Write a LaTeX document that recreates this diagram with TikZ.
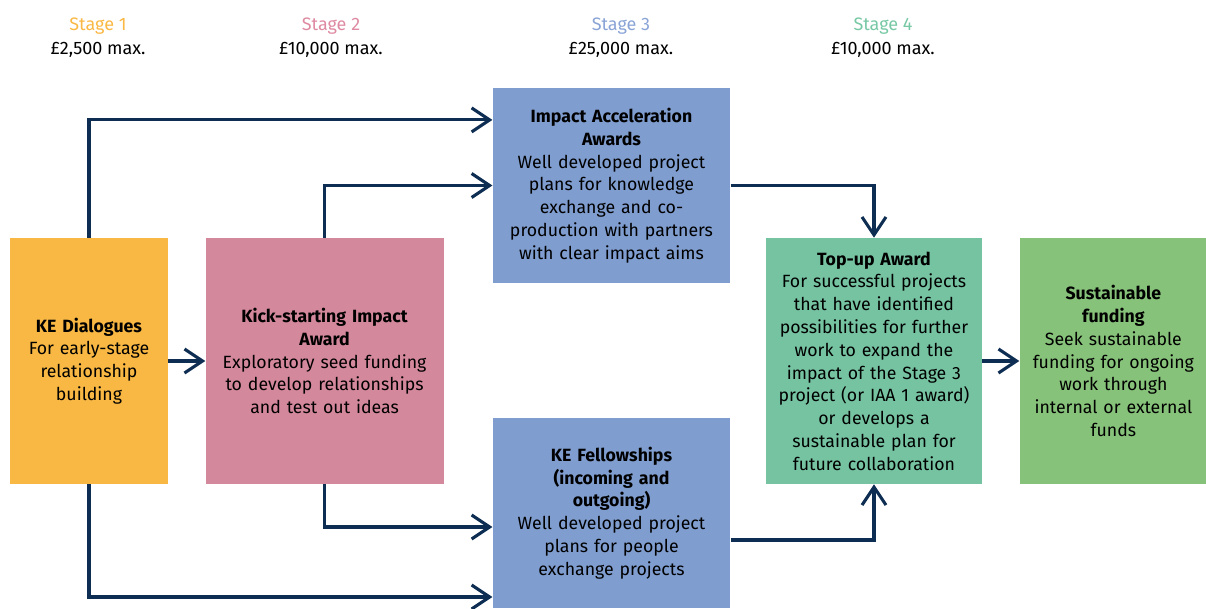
\documentclass[tikz,border=0pt]{standalone}
\usepackage{fontspec}
\setmainfont{Fira Sans}
\usepackage{xcolor}
\usepackage{tikz}
\usetikzlibrary{positioning}
\usetikzlibrary{arrows.meta}
\tikzset{>={Straight Barb[length=4.5mm,width=6mm]}}

\definecolor{dialcol}{HTML}{F8B843}
\definecolor{kickcol}{HTML}{D4889C}
\definecolor{iaacol}{HTML}{7F9DCF}
\definecolor{topcol}{HTML}{76C3A2}
\definecolor{sustcol}{HTML}{87C27A}
\definecolor{linecol}{HTML}{0E2D52}
\definecolor{stoneA}{HTML}{FAB845}
\definecolor{stoneB}{HTML}{DE8AA2}
\definecolor{stoneC}{HTML}{8AA4D6}
\definecolor{stoneD}{HTML}{77C8A4}

\begin{document}
\begin{tikzpicture}[box/.style={rectangle, draw=none, align=center, inner sep=2pt, minimum height=6.15cm, font=\fontsize{12.6}{16.2}\selectfont}, stagenode/.style={draw=none, fill=none, font=\fontsize{12.8}{14}\selectfont}, flow/.style={->, draw=linecol, line width=2.2pt}]

    \useasboundingbox (0,0) rectangle (30.15,-15.2);

    %Stages
    \node[stagenode, text=stoneA](stage1) at (2.45,-0.65){Stage 1};
    \node[stagenode](max1) at (2.45,-1.25){£2,500 max.};
    \node[stagenode, text=stoneB](stage2) at (8.275,-0.65){Stage 2};
    \node[stagenode](max2) at (8.275,-1.25){£10,000 max.};
    \node[stagenode, text=stoneC](stage3) at (15.525,-0.65){Stage 3};
    \node[stagenode](max3) at (15.525,-1.25){£25,000 max.};
    \node[stagenode, text=stoneD](stage4) at (22.075,-0.65){Stage 4};
    \node[stagenode](max4) at (22.075,-1.25){£10,000 max.};

    %Nodes
    \node[box, fill=dialcol, minimum width=3.95cm, text width=3.8cm](dial) at (2.225,-9.025){\textbf{KE Dialogues}\\For early-stage\\relationship\\building};
    \node[box, fill=kickcol, minimum width=5.95cm, text width=5.8cm](kick)[right=0.925cm of dial]{\textbf{Kick-starting Impact}\\\textbf{Award}\\Exploratory seed funding\\to develop relationships\\and test out ideas};
    \node[box, fill=iaacol, minimum width=5.925cm, text width=5.8cm, minimum height=4.875cm](iaa) at (15.2875,-4.6375){\textbf{Impact Acceleration}\\\textbf{Awards}\\Well developed project\\plans for knowledge\\exchange and co-\\production with partners\\with clear impact aims};
    \node[box, fill=iaacol, minimum width=5.925cm, text width=5.8cm, minimum height=4.75cm](fell) at (15.2875,-12.825){\textbf{KE Fellowships}\\\textbf{(incoming and}\\\textbf{outgoing)}\\Well developed project\\plans for people\\exchange projects};
    \node[box, fill=topcol, minimum width=5.4cm, text width=5.25cm](topup) at (21.85,-9.025){\textbf{Top-up Award}\\For successful projects\\that have identified\\possibilities for further\\work to expand the\\impact of the Stage 3\\project (or IAA 1 award)\\or develops a\\sustainable plan for\\future collaboration};
    \node[box, fill=sustcol, minimum width=4.675cm, text width=4.55cm](sust)[right=0.925cm of topup]{\textbf{Sustainable}\\\textbf{funding}\\Seek sustainable\\funding for ongoing\\work through\\internal or external\\funds};

    %Lines
    \draw[flow] (dial.east) -- (kick.west);
    \draw[flow] (dial.north) |- ([yshift=1.64cm]iaa.west);
    \draw[flow] (kick.north) |- (iaa.west);
    \draw[flow] (dial.south) |- ([yshift=-2.1cm]fell.west);
    \draw[flow] (kick.south) |- ([yshift=-0.35cm]fell.west);
    \draw[flow] (iaa.east) -| (topup.north);
    \draw[flow] ([yshift=-0.675cm]fell.east) -| (topup.south);
    \draw[flow] (topup.east) -- (sust.west);

\end{tikzpicture}
\end{document}
